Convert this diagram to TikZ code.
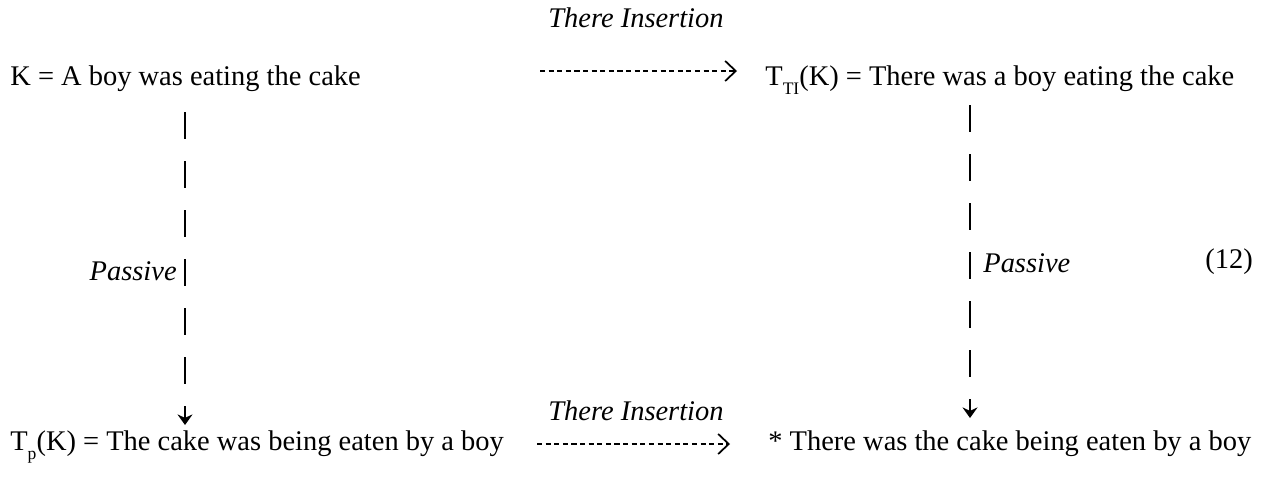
\documentclass[tikz,border=0pt]{standalone}
\usepackage{fontspec}
\setmainfont{Liberation Serif}
\usetikzlibrary{positioning,calc,arrows.meta}
\newcommand{\tsub}[1]{\raisebox{-0.7ex}{\fontsize{10}{10}\selectfont #1}}
\tikzset{
sent/.style={anchor=base west,inner sep=0pt,font=\fontsize{16.2}{19}\selectfont},
rulelab/.style={anchor=base,inner sep=0pt,font=\fontsize{16.2}{19}\selectfont\itshape},
ins/.style={line width=1.1pt,dash pattern=on 2.9pt off 2pt,
  -{Straight Barb[length=6pt,width=11.4pt,line width=1pt]}},
pas/.style={line width=1.5pt,dash pattern=on 15.4pt off 12.5pt,
  -{Stealth[length=6pt,width=8.5pt]}},
}

\begin{document}
\begin{tikzpicture}[x=0.02cm,y=-0.02cm]
\useasboundingbox (0,0) rectangle (1263,484);
\node[sent] (K) at (10,85) {K = A boy was eating the cake};
\node[sent] (TTI) at (765,85) {T\tsub{TI}(K) = There was a boy eating the cake};
\node[sent] (TP) at (10,450) {T\tsub{p}(K) = The cake was being eaten by a boy};
\node[sent] (star) at (768,450) {* There was the cake being eaten by a boy};

\node[rulelab] (tiTop) at (636,27) {There Insertion};
\node[rulelab] (tiBot) at (636,420) {There Insertion};
\node[rulelab,anchor=base east] (pasL) at (177,280) {Passive};
\node[rulelab,anchor=base west] (pasR) at (983,272) {Passive};
\node[sent] (num) at (1205,268) {(12)};

\draw[ins] ($(K.base west)+(530,-14)$) -- ($(TTI.base west)+(-28,-14)$);
\draw[ins] ($(TP.base west)+(527,-6)$) -- ($(star.base west)+(-38,-6)$);
\draw[pas] ($(K.base west)+(175,27)$) -- ($(K.base west |- TP.base)+(175,-25)$);
\draw[pas] ($(TTI.base west)+(205,20)$) -- ($(TTI.base west |- star.base)+(205,-32)$);
\end{tikzpicture}
\end{document}
